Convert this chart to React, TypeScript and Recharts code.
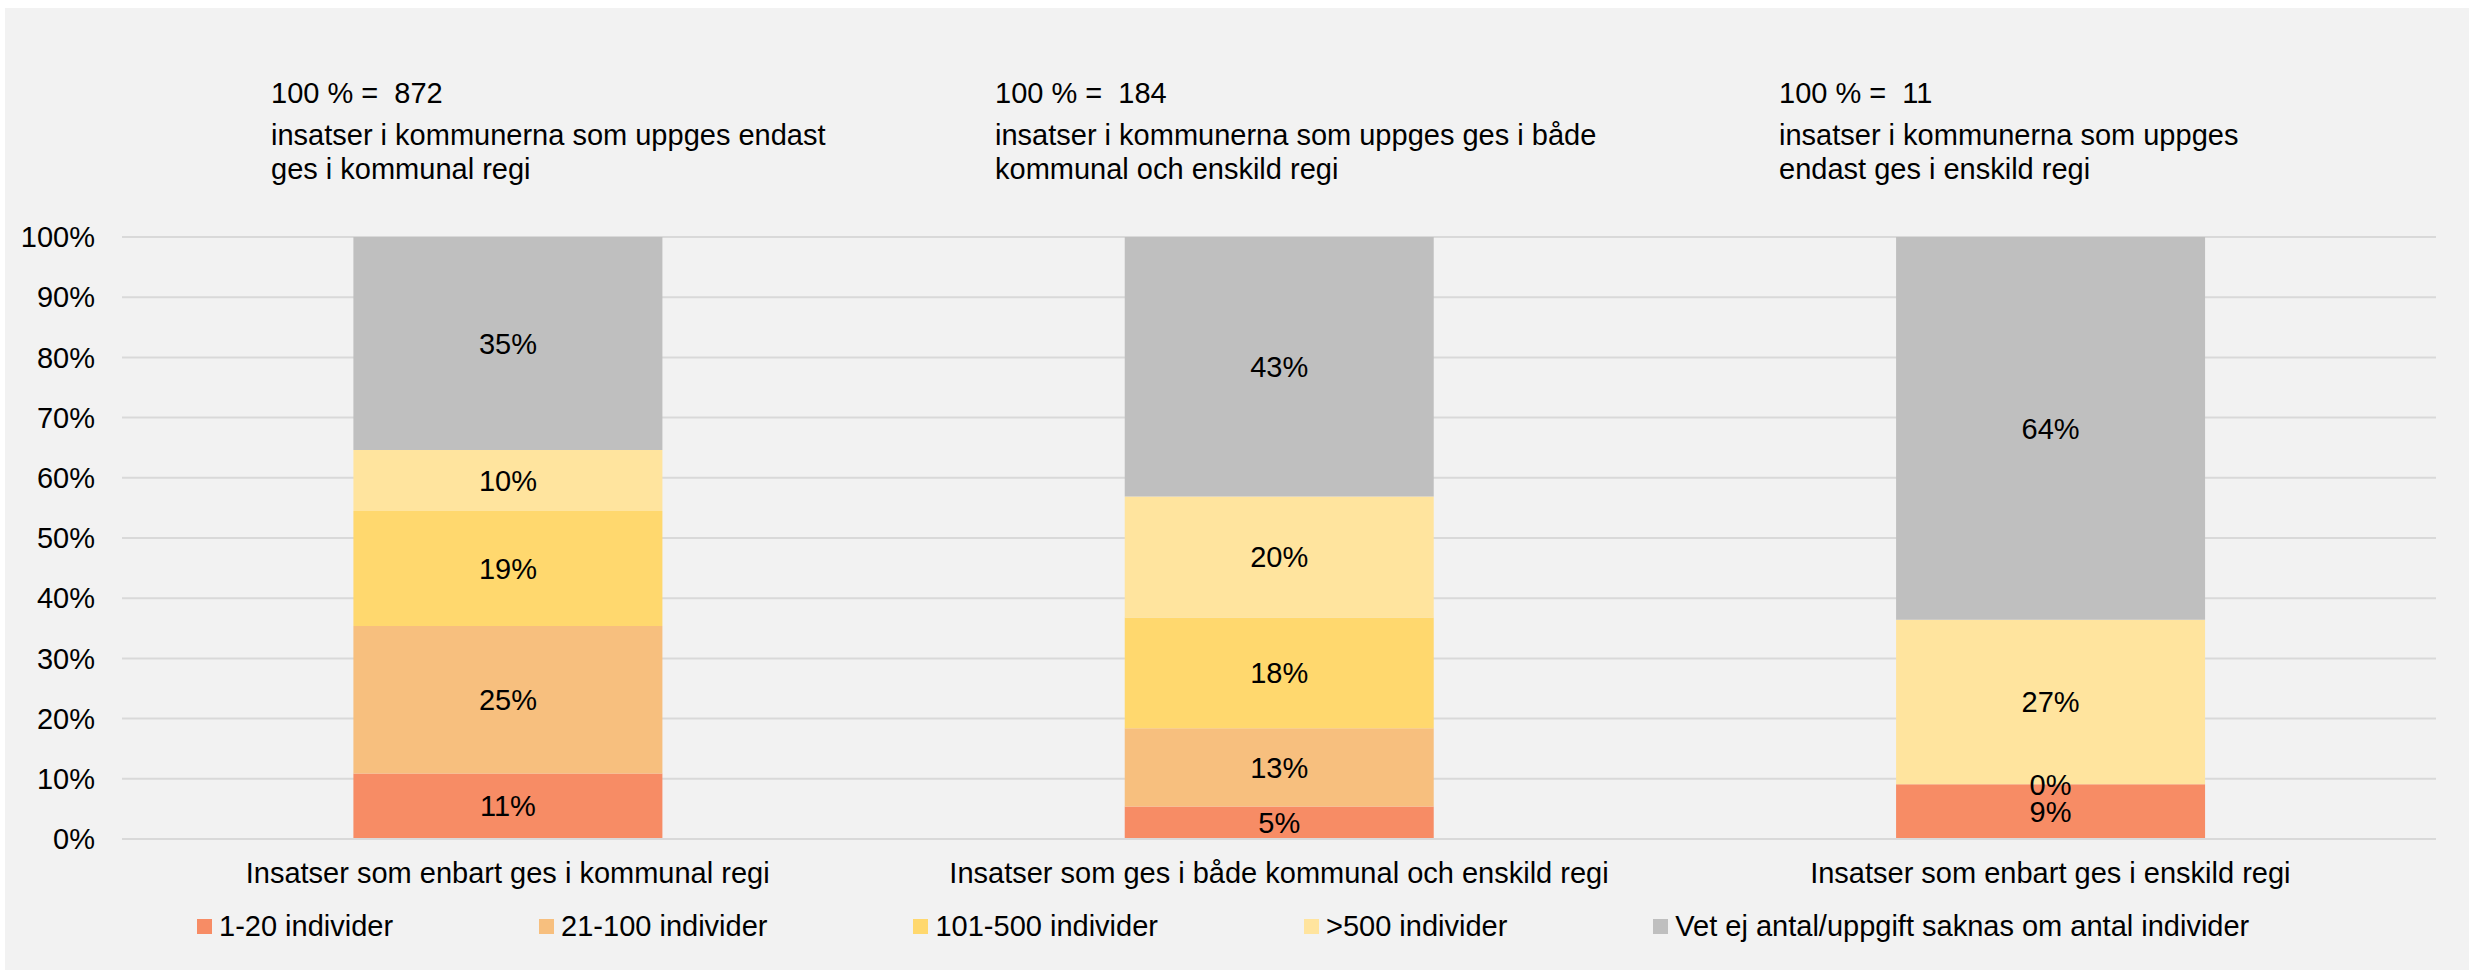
import React from 'react';
import { BarChart, Bar, XAxis, YAxis, CartesianGrid, LabelList } from 'recharts';

const categories = [
  'Insatser som enbart ges i kommunal regi',
  'Insatser som ges i både kommunal och enskild regi',
  'Insatser som enbart ges i enskild regi',
];
const totals = [872, 184, 11];
const headerLines = [
  ['insatser i kommunerna som uppges endast', 'ges i kommunal regi'],
  ['insatser i kommunerna som uppges ges i både', 'kommunal och enskild regi'],
  ['insatser i kommunerna som uppges', 'endast ges i enskild regi'],
];

const seriesNames = [
  '1-20 individer',
  '21-100 individer',
  '101-500 individer',
  '>500 individer',
  'Vet ej antal/uppgift saknas om antal individer',
];
const seriesColors = ['#F78C65', '#F7BF7E', '#FFD86E', '#FFE49E', '#BFBFBF'];

// percent per category (kommunal, både, enskild)
const ind1to20 = [10.9, 5.4, 9.1];
const ind21to100 = [24.5, 13.0, 0];
const ind101to500 = [19.1, 18.4, 0];
const indOver500 = [10.1, 20.1, 27.3];
const unknown = [35.4, 43.1, 63.6];

// show a "0%" label for zero values only where the original does
const showZero = [true, true, false, true, true];

const yTicks = [0, 10, 20, 30, 40, 50, 60, 70, 80, 90, 100];

const seriesValues = [ind1to20, ind21to100, ind101to500, indOver500, unknown];
const keys = ['s1', 's2', 's3', 's4', 's5'];

const data = categories.map((name, i) => {
  const row: Record<string, string | number> = { name };
  keys.forEach((k, j) => {
    row[k] = seriesValues[j][i];
  });
  return row;
});

const FONT = '"Liberation Sans", Arial, sans-serif';
const W = 2464;
const H = 962;
const headerX = [266, 990, 1774];

// Draws every segment label of one stacked column, using the top segment's
// rect (drawn last, so labels end up above all segments) to get the y scale.
const StackLabels = (props: any) => {
  const vb = props.viewBox || props;
  const { x, y, width, height } = vb;
  const index = props.index;
  const last = seriesValues.length - 1;
  const topVal = seriesValues[last][index];
  if (!topVal || !height) return null;
  const pxPerUnit = height / topVal;
  const base = seriesValues.slice(0, last).reduce((s, vals) => s + vals[index], 0);
  const bottomPx = y + height;
  let cum = 0;
  const out: React.ReactNode[] = [];
  seriesValues.forEach((vals, j) => {
    const v = vals[index];
    const mid = cum + v / 2;
    cum += v;
    if (v === 0 && !showZero[j]) return;
    const cy = bottomPx - (mid - base) * pxPerUnit;
    out.push(
      <text
        key={j}
        x={x + width / 2}
        y={cy}
        dy="0.355em"
        textAnchor="middle"
        fill="#000"
        fontSize={29}
        fontFamily={FONT}
      >
        {`${Math.round(v)}%`}
      </text>
    );
  });
  return <g>{out}</g>;
};

export default function App() {
  return (
    <div
      style={{
        position: 'absolute',
        left: 5,
        top: 8,
        width: W,
        height: H,
        background: '#F2F2F2',
        fontFamily: FONT,
        color: '#000',
      }}
    >
      {totals.map((t, i) => (
        <div key={i} style={{ position: 'absolute', left: headerX[i], top: 68, fontSize: 29, lineHeight: '34px' }}>
          <div style={{ whiteSpace: 'pre' }}>{`100 % =  ${t}`}</div>
          <div style={{ marginTop: 8 }}>
            {headerLines[i].map((l) => (
              <div key={l}>{l}</div>
            ))}
          </div>
        </div>
      ))}

      <BarChart
        width={W}
        height={H}
        data={data}
        margin={{ top: 229, right: 33, left: 0, bottom: 71 }}
        barCategoryGap="30%"
        style={{ position: 'absolute', left: 0, top: 0 }}
      >
        <CartesianGrid horizontal vertical={false} stroke="#D9D9D9" strokeWidth={2} />
        <XAxis
          dataKey="name"
          height={60}
          interval={0}
          axisLine={{ stroke: '#D9D9D9', strokeWidth: 2 }}
          tickLine={false}
          tickSize={0}
          tickMargin={23}
          tick={{ fill: '#000', fontSize: 29, fontFamily: FONT }}
        />
        <YAxis
          width={117}
          domain={[0, 100]}
          ticks={yTicks}
          axisLine={false}
          tickLine={false}
          tickSize={0}
          tickMargin={27}
          tickFormatter={(v: number) => `${v}%`}
          tick={{ fill: '#000', fontSize: 29, fontFamily: FONT }}
        />
        {keys.map((k, j) => (
          <Bar key={k} dataKey={k} stackId="a" fill={seriesColors[j]} name={seriesNames[j]} isAnimationActive={false}>
            {j === keys.length - 1 && <LabelList dataKey={k} content={StackLabels} />}
          </Bar>
        ))}
      </BarChart>

      <div
        style={{
          position: 'absolute',
          left: 192,
          top: 901,
          display: 'flex',
          alignItems: 'center',
          gap: 146,
          fontSize: 29,
          lineHeight: '34px',
          whiteSpace: 'nowrap',
        }}
      >
        {seriesNames.map((n, j) => (
          <div key={n} style={{ display: 'flex', alignItems: 'center' }}>
            <span style={{ width: 15, height: 15, background: seriesColors[j], marginRight: 7, display: 'inline-block' }} />
            <span>{n}</span>
          </div>
        ))}
      </div>
    </div>
  );
}
